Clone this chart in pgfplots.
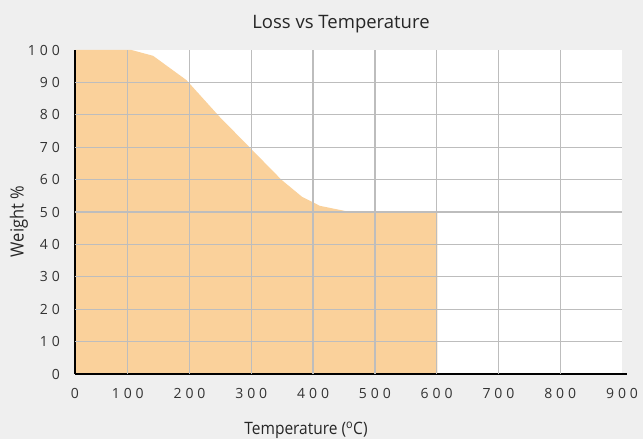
\documentclass[border=0pt]{standalone}
\usepackage{fontspec}
\setmainfont{Open Sans}
\newfontfamily\tickfont[LetterSpace=28]{Open Sans}
\usepackage{pgfplots}
\pgfplotsset{compat=1.18}
\definecolor{bgc}{HTML}{EFEFEF}
\definecolor{fillc}{HTML}{FAD19B}
\definecolor{gridc}{HTML}{BDBDBD}
\definecolor{txt}{HTML}{333333}
\begin{document}
\begin{tikzpicture}[x=1pt,y=1pt]
\fill[bgc] (-75,-65) rectangle (568,374);
\begin{axis}[
  at={(0,0)}, anchor=origin,
  scale only axis, width=547pt, height=324pt,
  xmin=14.6, xmax=900, ymin=0, ymax=100,
  axis on top=true,
  axis background/.style={fill=white},
  axis x line=bottom, axis y line=left,
  axis line style={-, black, line width=1.4pt},
  x axis line style={shorten >=-5pt},
  xtick={14.6,100,200,300,400,500,600,700,800,900},
  xticklabels={0,100,200,300,400,500,600,700,800,900},
  ytick={0,10,...,100},
  extra x ticks={100,200,...,800},
  extra x tick labels={},
  extra x tick style={grid=major, major tick length=0pt},
  extra y ticks={10,20,...,90},
  extra y tick labels={},
  extra y tick style={grid=major, major tick length=0pt},
  major grid style={gridc, line width=1.3pt},
  major tick length=0pt,
  /pgf/number format/assume math mode=true,
  ticklabel style={font=\tickfont\fontsize{14}{16}\selectfont, text=txt, inner sep=0pt},
  xticklabel style={anchor=north, yshift=-14pt},
  yticklabel style={anchor=east, xshift=-15pt},
  clip=true,
]
\addplot[fill=fillc, draw=none] coordinates {
 (0,100) (106,100) (141,98.2) (195,90.7) (249,79.3) (298,69.8) (349,59.9)
 (382,54.7) (411,51.9) (465,49.8) (601,49.8)
} \closedcycle;
\end{axis}
\node[text=black!85, font=\fontsize{18.5}{22}\selectfont] at (266,350) {Loss vs Temperature};
\node[text=black!85, font=\fontsize{15.5}{18}\selectfont] at (231,-56) {\scalebox{1}[1.1]{Temperature (\textsuperscript{o}C)}};
\node[text=black!85, font=\fontsize{16.5}{18}\selectfont, rotate=90] at (-56,152.5) {\scalebox{1}[1.1]{Weight \%}};
\end{tikzpicture}
\end{document}
